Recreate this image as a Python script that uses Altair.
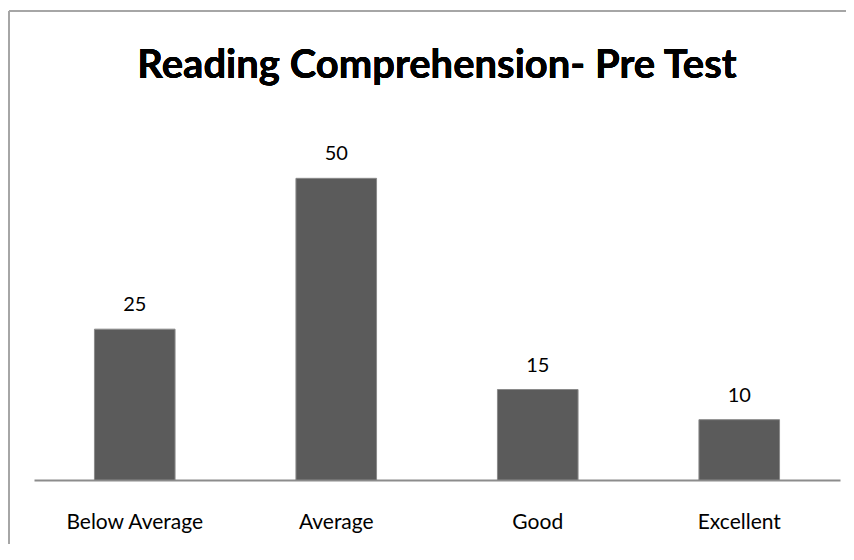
import altair as alt
import pandas as pd

title_text = "Reading Comprehension- Pre Test"
categories = ["Below Average", "Average", "Good", "Excellent"]
values = [25, 50, 15, 10]

df = pd.DataFrame({"category": categories, "value": values})

FONT = "Lato"

x_enc = alt.X("category:N", sort=categories,
              scale=alt.Scale(paddingInner=0.6, paddingOuter=0.3),
              axis=alt.Axis(title=None, labelAngle=0, ticks=False, domain=True,
                            domainColor="#8c8c8c", domainWidth=2,
                            labelFont=FONT, labelFontSize=21, labelColor="#000000",
                            labelPadding=48, labelBaseline="alphabetic"))
y_enc = alt.Y("value:Q", scale=alt.Scale(domain=[0, 60], nice=False), axis=None)

base = alt.Chart(df)

bars = base.mark_bar(color="#5b5b5b", stroke="#8a8a8a", strokeWidth=1).encode(
    x=x_enc, y=y_enc)

labels = base.mark_text(font=FONT, fontSize=20, color="#000000", dy=-18,
                        baseline="alphabetic").encode(
    x=alt.X("category:N", sort=categories), y="value:Q", text="value:Q")

title = alt.Chart(df).mark_text(font=FONT, fontSize=40, fontWeight="bold",
                                color="#000000", baseline="alphabetic",
                                align="center").encode(
    x=alt.value(403), y=alt.value(-40), text=alt.value(title_text))

border_top = alt.Chart(df).mark_rule(color="#a6a6a6", strokeWidth=2).encode(
    x=alt.value(-25), x2=alt.value(900), y=alt.value(-107))
border_left = alt.Chart(df).mark_rule(color="#a6a6a6", strokeWidth=2).encode(
    x=alt.value(-25), y=alt.value(-107), y2=alt.value(600))

chart = alt.layer(bars, labels, title, border_top, border_left).properties(
    width=806, height=362,
    autosize=alt.AutoSizeParams(type="none"),
    padding={"left": 26, "top": 110, "right": 6, "bottom": 64},
).configure(background="white", view=alt.ViewConfig(stroke=None))

chart.save("out.html", embed_options={"renderer": "svg", "actions": False})
